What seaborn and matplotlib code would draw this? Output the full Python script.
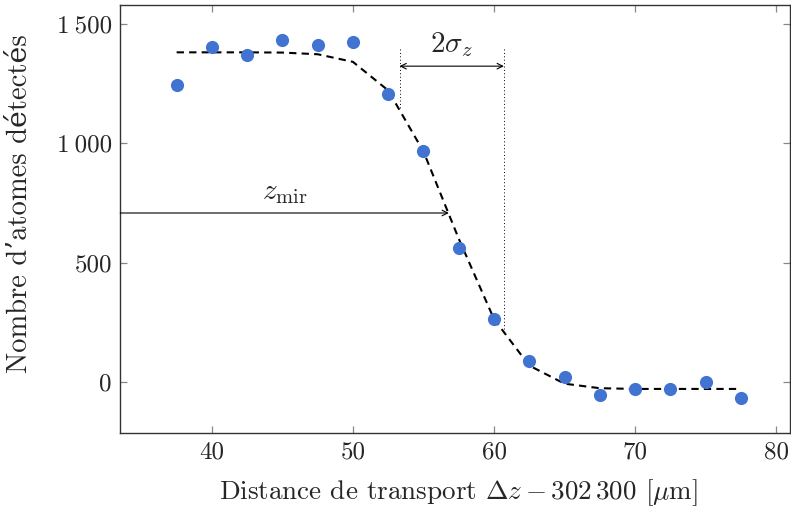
import numpy as np
import pandas as pd
import matplotlib
matplotlib.use("Agg")
import matplotlib.pyplot as plt
import seaborn as sns

# data
distance = [37.5, 40, 42.5, 45, 47.5, 50, 52.5, 55, 57.5, 60,
            62.5, 65, 67.5, 70, 72.5, 75, 77.5]
atomes = [1244, 1403, 1370, 1433, 1412, 1424, 1207, 968, 561, 264,
          88, 21, -54, -29, -29, 0, -67]
ajustement = [1382, 1382, 1382, 1381, 1374, 1342, 1222, 966, 600, 263,
              68, -8, -27, -30, -30, -30, -30]

z_mir = 56.8
sigma_bornes = [53.3, 60.7]
xticks = [40, 50, 60, 70, 80]
yticks = [0, 500, 1000, 1500]
ytick_labels = ["0", "500", "1\u2009000", "1\u2009500"]

df = pd.DataFrame({"z": distance, "N": atomes, "fit": ajustement})

sns.set_style("ticks")
plt.rcParams["font.family"] = ["cmr10", "DejaVu Serif"]
plt.rcParams["mathtext.fontset"] = "cm"
plt.rcParams["axes.unicode_minus"] = False

fig, ax = plt.subplots(figsize=(7.91, 5.14), dpi=100)

sns.lineplot(x="z", y="fit", data=df, ax=ax, color="black",
             linestyle=(0, (3.5, 2.5)), linewidth=1.5)
sns.scatterplot(x="z", y="N", data=df, ax=ax, color="#4173d1",
                s=90, linewidth=0, zorder=3)

ax.set_xlim(33.5, 81.0)
ax.set_ylim(-214, 1580)
ax.set_xticks(xticks)
ax.set_yticks(yticks)
ax.set_yticklabels(ytick_labels)
ax.tick_params(direction="in", length=5, color="#888888",
               top=True, right=True, labelsize=18, width=0.9, pad=6)
for s in ax.spines.values():
    s.set_color("#333333")
    s.set_linewidth(1.0)

ax.set_xlabel(r"Distance de transport $\Delta z - 302\,300$ [$\mu$m]",
              fontsize=19.5)
ax.xaxis.set_label_coords(0.505, -0.105)
ax.set_ylabel("Nombre d\u2019atomes détectés", fontsize=20.5)
ax.yaxis.set_label_coords(-0.13, 0.535)

# z_mir arrow
ax.annotate("", xy=(z_mir, 708), xytext=(33.5, 708),
            arrowprops=dict(arrowstyle="->", color="black", lw=0.8,
                            shrinkA=0, shrinkB=0))
ax.text((33.5 + z_mir) / 2, 765, r"$z_{\rm mir}$", ha="center",
        va="baseline", fontsize=21)

# 2 sigma
ax.plot([sigma_bornes[0]] * 2, [1395, 1150], color="black", lw=0.7,
        linestyle=(0, (1, 2.5)))
ax.plot([sigma_bornes[1]] * 2, [1395, 200], color="black", lw=0.7,
        linestyle=(0, (1, 2.5)))
ax.annotate("", xy=(sigma_bornes[1], 1324), xytext=(sigma_bornes[0], 1324),
            arrowprops=dict(arrowstyle="<->", color="black", lw=0.8,
                            shrinkA=0, shrinkB=0))
ax.text(sum(sigma_bornes) / 2, 1385, r"$2\sigma_z$", ha="center",
        va="baseline", fontsize=21)

fig.subplots_adjust(left=0.152, right=0.999, top=0.99, bottom=0.158)
fig.savefig("out.png", dpi=100)
